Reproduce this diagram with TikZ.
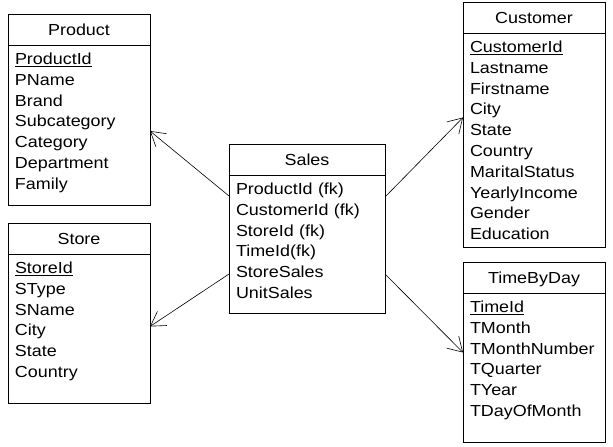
\documentclass[tikz,border=0pt]{standalone}
\usepackage{fontspec}
\setmainfont{Liberation Sans}[FakeStretch=1.12]
\usetikzlibrary{positioning,arrows.meta}

\begin{document}
\begin{tikzpicture}[x=1pt,y=1pt,line width=0.8pt,
  every node/.style={font=\fontsize{16}{20.8}\selectfont},
  tabhead/.style={draw,outer sep=0pt,inner sep=0pt,minimum width=#1,minimum height=31pt,text height=13pt,text depth=0pt},
  tabbody/.style 2 args={draw,outer sep=0pt,inner xsep=7pt,inner ysep=0pt,text width=#1-14pt,align=left,text height=19.5pt,text depth=#2},
  fk/.style={-{Straight Barb[length=14pt,width=17pt]},line width=0.6pt}]
\useasboundingbox (0,0) rectangle (613,447);
\node[tabhead=142pt] (prodhead) at (79,417.5) {Product};
\node[tabbody={142pt}{140.5pt},below=0pt of prodhead] (prodbody) {\underline{ProductId}\\PName\\Brand\\Subcategory\\Category\\Department\\Family};
\node[tabhead=142pt] (storehead) at (79,208.5) {Store};
\node[tabbody={142pt}{129.5pt},below=0pt of storehead] (storebody) {\underline{StoreId}\\SType\\SName\\City\\State\\Country};
\node[tabhead=156pt] (saleshead) at (307,287.5) {Sales};
\node[tabbody={156pt}{118.5pt},below=0pt of saleshead] (salesbody) {ProductId (fk)\\CustomerId (fk)\\StoreId (fk)\\TimeId(fk)\\StoreSales\\UnitSales};
\node[tabhead=142pt] (custhead) at (534,429.5) {Customer};
\node[tabbody={142pt}{194.5pt},below=0pt of custhead] (custbody) {\underline{CustomerId}\\Lastname\\Firstname\\City\\State\\Country\\MaritalStatus\\YearlyIncome\\Gender\\Education};
\node[tabhead=142pt] (timehead) at (534,169.5) {TimeByDay};
\node[tabbody={142pt}{129.5pt},below=0pt of timehead] (timebody) {\underline{TimeId}\\TMonth\\TMonthNumber\\TQuarter\\TYear\\TDayOfMonth};
\draw[fk] ([yshift=48pt]salesbody.west) -- ([yshift=-6pt]prodbody.east);
\draw[fk] ([yshift=-30pt]salesbody.west) -- ([yshift=2pt]storebody.east);
\draw[fk] ([yshift=47pt]salesbody.east) -- ([yshift=22.5pt]custbody.west);
\draw[fk] ([yshift=-30pt]salesbody.east) -- ([yshift=15pt]timebody.west);
\end{tikzpicture}
\end{document}
